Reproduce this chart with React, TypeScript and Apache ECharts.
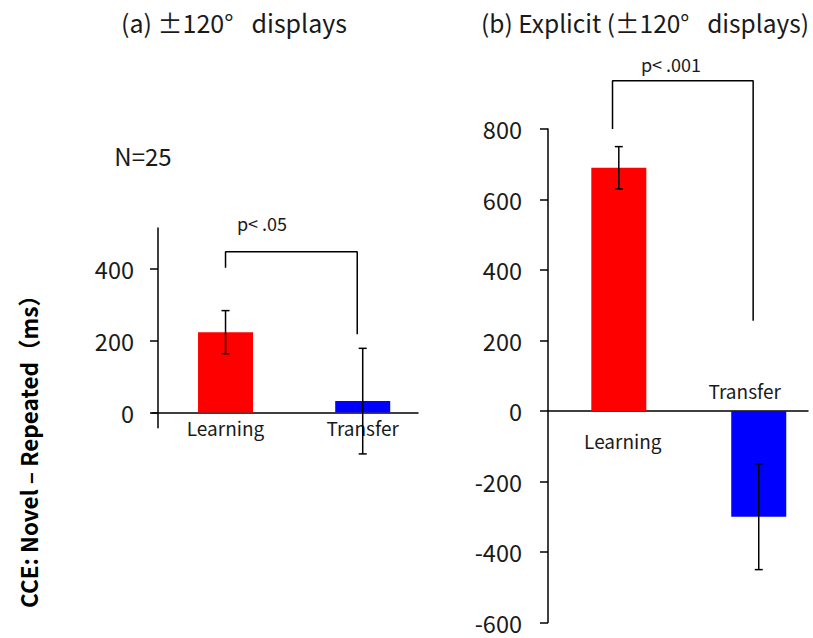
import React, { useEffect, useRef } from "react";
import * as echarts from "echarts";

const FONT = "'Noto Sans CJK JP', 'Noto Sans', sans-serif";

const categories = ["Learning", "Transfer"];
const barColors = ["#FF0000", "#0000FF"];

const leftMeans = [224, 32];
const leftErrs = [60, 147];
const rightMeans = [690, -300];
const rightErrs = [60, 150];

const leftTicks = [0, 200, 400];
const rightMin = -600;
const rightMax = 800;
const rightInterval = 200;

// significance brackets: [category position, value]
const leftBracket = [
  [0, 403],
  [0, 448],
  [0.96, 448],
  [0.96, 218],
];
const rightBracket = [
  [-0.045, 800],
  [-0.045, 937],
  [0.96, 937],
  [0.96, 256],
];

const titleA = "(a) ±120° \u2002displays";
const titleB = "(b) Explicit (±120° \u2002displays)";
const nLabel = "N=25";
const pLeft = "p< .05";
const pRight = "p< .001";
const yTitle = "CCE: Novel – Repeated（ms）";

function barData(means: number[]) {
  return means.map((m, i) => ({ value: [i, m], itemStyle: { color: barColors[i] } }));
}
function errData(means: number[], errs: number[]) {
  return means.map((m, i) => [i, m - errs[i], m + errs[i]]);
}
const renderErr = (params: any, api: any) => {
  const x = api.value(0);
  const lo = api.coord([x, api.value(1)]);
  const hi = api.coord([x, api.value(2)]);
  const w = 4;
  const style = { stroke: "#000", lineWidth: 1.5 };
  return {
    type: "group",
    children: [
      { type: "line", shape: { x1: hi[0], y1: hi[1], x2: lo[0], y2: lo[1] }, style },
      { type: "line", shape: { x1: hi[0] - w, y1: hi[1], x2: hi[0] + w, y2: hi[1] }, style },
      { type: "line", shape: { x1: lo[0] - w, y1: lo[1], x2: lo[0] + w, y2: lo[1] }, style },
    ],
  };
};

const axisLineStyle = { color: "#000", width: 1.5 };
const tickLabelStyle = { color: "#1a1a1a", fontSize: 23.5, lineHeight: 20, fontFamily: FONT };
const catLabelStyle = { color: "#1a1a1a", fontSize: 19, fontFamily: FONT };

export default function App() {
  const ref = useRef<HTMLDivElement>(null);
  useEffect(() => {
    if (!ref.current) return;
    const chart = echarts.init(ref.current, undefined, { renderer: "svg" });
    const option: any = {
      animation: false,
      backgroundColor: "#fff",
      grid: [
        { left: 152, top: 228, width: 266, height: 199.7, outerBoundsMode: "none", containLabel: false },
        { left: 548, top: 129, width: 260, height: 493.5, outerBoundsMode: "none", containLabel: false },
      ],
      xAxis: [
        {
          gridIndex: 0,
          type: "value",
          min: -0.536,
          max: 1.403,
          position: "bottom",
          splitLine: { show: false },
          axisLine: { show: true, onZero: true, lineStyle: axisLineStyle },
          axisTick: { show: false },
          axisLabel: {
            ...catLabelStyle,
            margin: -10,
            customValues: [0, 1],
            formatter: (v: number) => categories[Math.round(v)] ?? "",
          },
        },
        {
          gridIndex: 1,
          type: "value",
          min: -0.506,
          max: 1.352,
          position: "bottom",
          splitLine: { show: false },
          axisLine: { show: true, onZero: true, lineStyle: axisLineStyle },
          axisTick: { show: false },
          axisLabel: {
            ...catLabelStyle,
            margin: -192,
            padding: [0, 0, 0, 8],
            customValues: [0],
            formatter: (v: number) => categories[Math.round(v)] ?? "",
          },
        },
        {
          gridIndex: 1,
          type: "value",
          min: -0.506,
          max: 1.352,
          position: "top",
          splitLine: { show: false },
          axisLine: { show: false, onZero: false },
          axisTick: { show: false },
          axisLabel: {
            ...catLabelStyle,
            margin: -271,
            padding: [0, 28, 0, 0],
            customValues: [1],
            formatter: (v: number) => categories[Math.round(v)] ?? "",
          },
        },
      ],
      yAxis: [
        {
          gridIndex: 0,
          type: "value",
          min: -42,
          max: 514,
          offset: -6,
          splitLine: { show: false },
          axisLine: { show: true, onZero: false, lineStyle: axisLineStyle },
          axisTick: { show: true, length: 8, lineStyle: axisLineStyle, customValues: leftTicks },
          axisLabel: { ...tickLabelStyle, margin: 24, customValues: leftTicks },
        },
        {
          gridIndex: 1,
          type: "value",
          min: rightMin,
          max: rightMax,
          interval: rightInterval,
          splitLine: { show: false },
          axisLine: { show: true, onZero: false, lineStyle: axisLineStyle },
          axisTick: { show: true, length: 8, lineStyle: axisLineStyle },
          axisLabel: { ...tickLabelStyle, margin: 26 },
        },
      ],
      series: [
        { type: "bar", xAxisIndex: 0, yAxisIndex: 0, barWidth: 55, data: barData(leftMeans) },
        { type: "bar", xAxisIndex: 1, yAxisIndex: 1, barWidth: 55, data: barData(rightMeans) },
        {
          type: "custom",
          xAxisIndex: 0,
          yAxisIndex: 0,
          renderItem: renderErr,
          data: errData(leftMeans, leftErrs),
          z: 5,
        },
        {
          type: "custom",
          xAxisIndex: 1,
          yAxisIndex: 1,
          renderItem: renderErr,
          data: errData(rightMeans, rightErrs),
          z: 5,
        },
        {
          type: "line",
          xAxisIndex: 0,
          yAxisIndex: 0,
          data: leftBracket,
          symbol: "none",
          clip: false,
          lineStyle: { color: "#000", width: 1.5 },
        },
        {
          type: "line",
          xAxisIndex: 1,
          yAxisIndex: 1,
          data: rightBracket,
          symbol: "none",
          clip: false,
          lineStyle: { color: "#000", width: 1.5 },
        },
      ],
      graphic: [
        {
          type: "text",
          x: 234,
          y: 22,
          style: { text: titleA, fontSize: 25, fontFamily: FONT, fill: "#1a1a1a", align: "center", verticalAlign: "middle" },
        },
        {
          type: "text",
          x: 645,
          y: 22,
          style: { text: titleB, fontSize: 24.5, fontFamily: FONT, fill: "#1a1a1a", align: "center", verticalAlign: "middle" },
        },
        {
          type: "text",
          x: 143,
          y: 155,
          style: { text: nLabel, fontSize: 24, fontFamily: FONT, fill: "#1a1a1a", align: "center", verticalAlign: "middle" },
        },
        {
          type: "text",
          x: 262,
          y: 223,
          style: { text: pLeft, fontSize: 18, fontFamily: FONT, fill: "#1a1a1a", align: "center", verticalAlign: "middle" },
        },
        {
          type: "text",
          x: 671,
          y: 64,
          style: { text: pRight, fontSize: 18, fontFamily: FONT, fill: "#1a1a1a", align: "center", verticalAlign: "middle" },
        },
        {
          type: "text",
          x: 28,
          y: 446,
          rotation: Math.PI / 2,
          style: {
            text: yTitle,
            fontSize: 22.5,
            fontWeight: "bold",
            fontFamily: FONT,
            fill: "#000",
            align: "center",
            verticalAlign: "middle",
          },
        },
      ],
    };
    chart.setOption(option);
    return () => chart.dispose();
  }, []);
  return (
    <div
      ref={ref}
      style={{ position: "absolute", left: 0, top: 0, width: 813, height: 638, background: "#fff" }}
    />
  );
}
